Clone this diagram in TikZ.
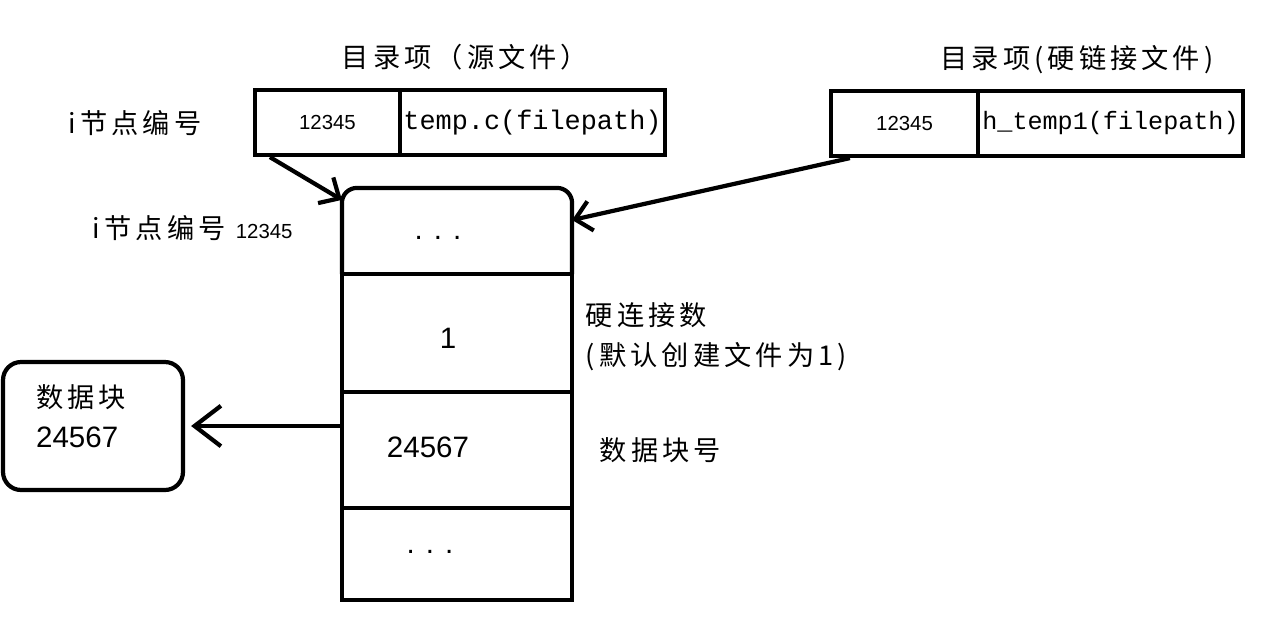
\documentclass[tikz,border=0pt]{standalone}
\usepackage{fontspec}
\setmainfont{Liberation Sans}
\newfontfamily\cjk[LetterSpace=15]{Noto Sans CJK SC}
\newfontfamily\pathfont{Liberation Mono}
\usetikzlibrary{arrows.meta}

\begin{document}
\begin{tikzpicture}[
    x=0.02cm, y=-0.02cm,
    line width=2.4pt,
    entry/.style={rectangle, draw, minimum height=1.3cm, inner sep=0pt},
    cell/.style={rectangle, minimum width=4.52cm, inner sep=0pt},
    small/.style={font=\fontsize{11.6pt}{14pt}\selectfont},
    big/.style={font=\fontsize{16.8pt}{20pt}\selectfont},
    zh/.style={font=\cjk\fontsize{15.5pt}{22.7pt}\selectfont, align=left},
    arrow/.style={-{Straight Barb[length=9pt, width=17pt]}},
    bigarrow/.style={-{Straight Barb[length=15pt, width=23pt]}}
]
\useasboundingbox (0,0) rectangle (1284,619);

% Directory entries
\node[zh] (srctitle) at (465,57) {目录项（源文件）};
\node[entry, small, minimum width=2.9cm] (srcino) at (327.5,122.5) {12345};
\node[entry, minimum width=5.3cm, font=\pathfont\fontsize{15.3pt}{18pt}\selectfont] (srcname) at (532.5,122.5) {temp.c(filepath)};

\node[zh] (lnktitle) at (1077,60) {目录项(硬链接文件)};
\node[entry, small, minimum width=2.94cm] (lnkino) at (904.5,123.5) {12345};
\node[entry, minimum width=5.3cm, font=\pathfont\fontsize{14.3pt}{18pt}\selectfont] (lnkname) at (1110.5,123.5) {h\_temp1(filepath)};

\node[zh] (inolabel) at (135,123) {i节点编号};
\node[zh, anchor=west] (inonum) at (85,228) {i节点编号 {\rmfamily\fontsize{11.6pt}{14pt}\selectfont 12345}};

% Inode
\node[cell, minimum height=1.64cm] (cell1) at (457,231) {};
\node[cell, minimum height=2.36cm] (cell2) at (457,331) {};
\node[cell, minimum height=2.32cm] (cell3) at (457,448) {};
\node[cell, minimum height=1.84cm] (cell4) at (457,552) {};
\draw[rounded corners=0.3cm] (cell1.south west) -- (cell1.north west) -- (cell1.north east) -- (cell1.south east);
\draw (cell1.south west) -- (cell4.south west) -- (cell4.south east) -- (cell1.south east);
\draw (cell1.south west) -- (cell1.south east);
\draw (cell2.south west) -- (cell2.south east);
\draw (cell3.south west) -- (cell3.south east);

\node[big] (dots1) at (438,238) {.\hskip0.22cm.\hskip0.22cm.};
\node[big] (links) at (448,338) {1};
\node[big] (blockno) at (428,447) {24567};
\node[big] (dots2) at (430,552) {.\hskip0.22cm.\hskip0.22cm.};

\node[zh, anchor=west] (linksnote) at (578,337) {硬连接数\\(默认创建文件为1)};
\node[zh, anchor=west] (blocknote) at (592,450) {数据块号};

% Data block
\node[rectangle, draw, rounded corners=0.36cm, minimum width=3.6cm, minimum height=2.56cm] (block) at (93,426) {};
\node[zh, anchor=west, inner sep=0pt] (blocktext) at (34,416) {数据块\\{\rmfamily\fontsize{16.8pt}{20pt}\selectfont 24567}};

% Arrows
\draw[arrow] ([xshift=0.34cm]srcino.south west) -- ([yshift=-0.24cm]cell1.north west);
\draw[arrow] ([xshift=0.42cm]lnkino.south west) -- ([yshift=0.22cm]cell1.east);
\draw[bigarrow] (cell3.west |- block.east) -- ([xshift=0.12cm]block.east);

\end{tikzpicture}
\end{document}
